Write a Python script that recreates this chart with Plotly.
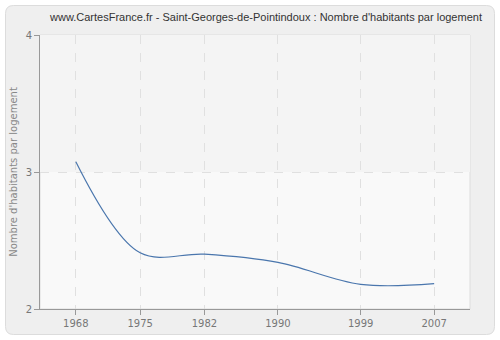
import plotly.graph_objects as go

years = [1968, 1975, 1982, 1990, 1999, 2007]
hab_par_logement = [3.075, 2.41, 2.40, 2.34, 2.18, 2.185]
tick_years = ["1968", "1975", "1982", "1990", "1999", "2007"]
y_ticks = [2, 3, 4]

title = "www.CartesFrance.fr - Saint-Georges-de-Pointindoux : Nombre d'habitants par logement"
y_title = "Nombre d'habitants par logement"

W, H = 500, 340
ML, MR, MT, MB = 40, 30, 35, 31
pw, ph = W - ML - MR, H - MT - MB


def px_to_paper(x, y):
    return (x - ML) / pw, (H - MB - y) / ph


def rounded_rect(x0, y0, x1, y1, r):
    def p(x, y):
        a, b = px_to_paper(x, y)
        return f"{a:.5f},{b:.5f}"
    return (f"M {p(x0 + r, y0)} L {p(x1 - r, y0)} Q {p(x1, y0)} {p(x1, y0 + r)} "
            f"L {p(x1, y1 - r)} Q {p(x1, y1)} {p(x1 - r, y1)} "
            f"L {p(x0 + r, y1)} Q {p(x0, y1)} {p(x0, y1 - r)} "
            f"L {p(x0, y0 + r)} Q {p(x0, y0)} {p(x0 + r, y0)} Z")


fig = go.Figure()
fig.add_trace(go.Scatter(
    x=years, y=hab_par_logement, mode="lines",
    line=dict(color="#4a76ad", width=1.2, shape="spline", smoothing=1.0),
    hoverinfo="skip", showlegend=False,
))

fig.update_layout(
    width=W, height=H,
    margin=dict(l=ML, r=MR, t=MT, b=MB),
    paper_bgcolor="white",
    plot_bgcolor="#f8f8f8",
    font=dict(family="DejaVu Sans", size=10, color="#777"),
    title=dict(text=title, x=266 / W, xanchor="center", y=1 - 17 / H, yanchor="middle",
               font=dict(family="Liberation Sans", size=11, color="#333")),
    shapes=[
        dict(type="path", xref="paper", yref="paper", layer="below",
             path=rounded_rect(5.5, 5.5, 494.5, 334.5, 8),
             fillcolor="#efefef", line=dict(color="#dcdcdc", width=1)),
        dict(type="rect", xref="paper", yref="paper", layer="below",
             x0=0, x1=1, y0=0, y1=1, fillcolor="#f9f9f9",
             line=dict(color="#dddddd", width=1)),
        # alternating band between the two upper ticks
        dict(type="rect", xref="paper", yref="y", layer="below",
             x0=0, x1=1, y0=y_ticks[1], y1=y_ticks[2], fillcolor="#f4f4f4",
             line=dict(width=0)),
    ],
    xaxis=dict(range=[1964.1, 2010.9], tickvals=years, ticktext=tick_years,
               showgrid=True, gridcolor="#e0e0e0", griddash="dash", gridwidth=1,
               showline=True, linecolor="#999", linewidth=1,
               ticks="outside", ticklen=5, tickcolor="#999", automargin=False,
               zeroline=False, tickfont=dict(color="#777", size=10)),
    yaxis=dict(range=[2, 4], tickvals=y_ticks, ticktext=[str(v) for v in y_ticks],
               showgrid=True, gridcolor="#e0e0e0", griddash="dash", gridwidth=1,
               showline=True, linecolor="#999", linewidth=1,
               ticks="outside", ticklen=5, tickcolor="#999", automargin=False,
               zeroline=False, tickfont=dict(color="#777", size=10),
               title=dict(text=y_title, font=dict(color="#888", size=10), standoff=6)),
)

fig.write_html("out.html")
